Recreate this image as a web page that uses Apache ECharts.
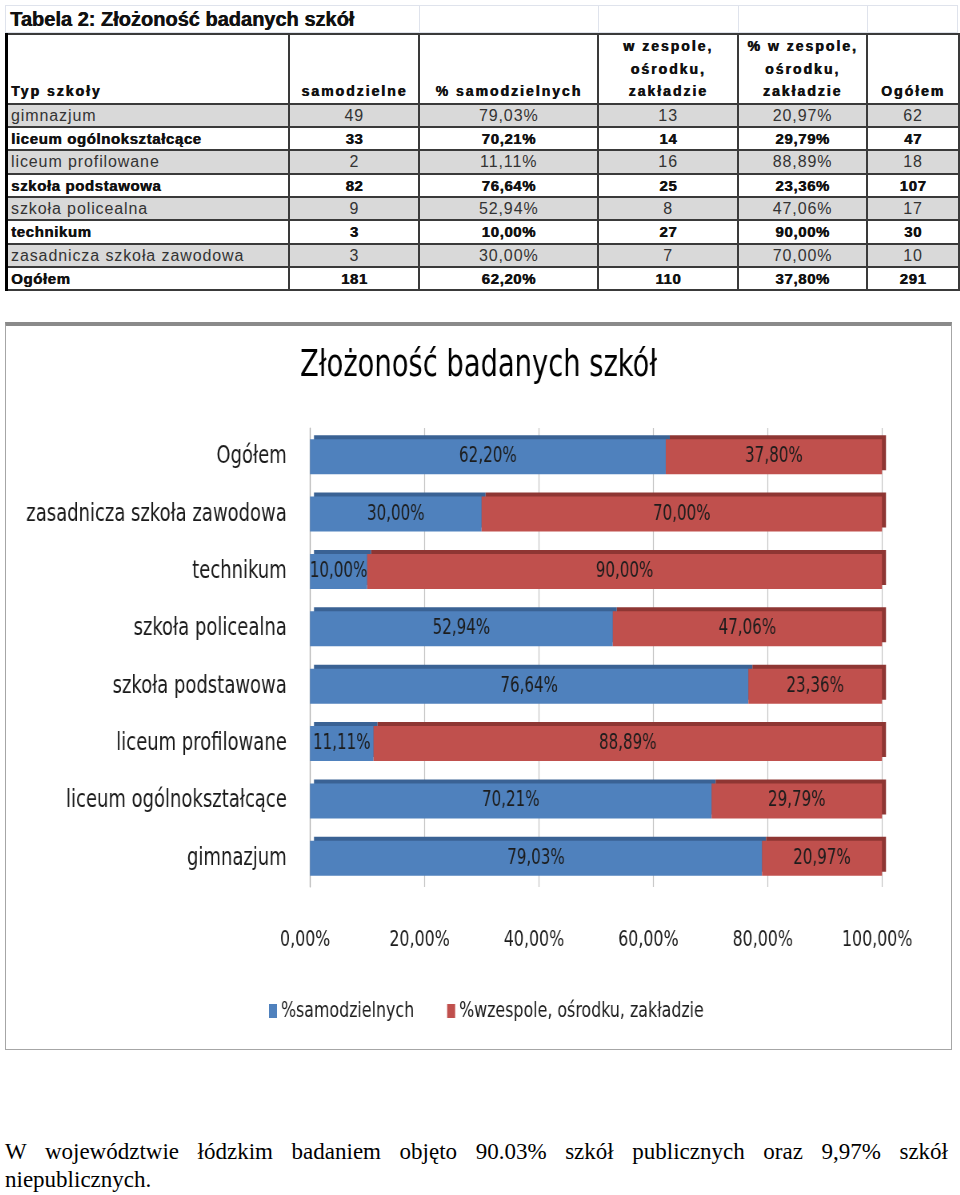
<!DOCTYPE html>
<html>
<head>
<meta charset="utf-8">
<script src="https://cdn.jsdelivr.net/npm/echarts@6/dist/echarts.min.js"></script>
<style>
html,body{margin:0;padding:0;background:#fff;width:960px;height:1195px;overflow:hidden;position:relative;}
#ttl{position:absolute;left:5px;top:5px;width:953px;height:28px;border:1px solid #dfe3ec;box-sizing:border-box;}
#ttl span{position:absolute;left:4px;top:2px;font:bold 20px "Liberation Sans",Arial,sans-serif;color:#111;letter-spacing:0px;text-shadow:0.5px 0 0 #111;}
.gl{position:absolute;top:0;width:1px;height:28px;background:#dfe3ec;}
#tbl{position:absolute;left:5px;top:33px;border-collapse:collapse;table-layout:fixed;font-family:"Liberation Sans",Arial,sans-serif;}
#tbl td{border:2px solid #3a3a3a;padding:0 3px;overflow:hidden;white-space:nowrap;}
#tbl tr.hd td{height:61px;vertical-align:bottom;text-align:center;font-weight:bold;font-size:14px;letter-spacing:2px;line-height:22.5px;color:#111;padding-bottom:0;text-shadow:0.6px 0 0 #111;}
#tbl tr.r td{height:21.35px;line-height:21px;text-align:center;}
#tbl tr.g td{background:#d9d9d9;color:#333;font-size:16px;letter-spacing:0.9px;}
#tbl tr.b td{background:#fff;color:#111;font-weight:bold;font-size:15px;letter-spacing:0.6px;text-shadow:0.5px 0 0 #111;}
#tbl td.c0{text-align:left !important;border-left:3px solid #000;}
#box{position:absolute;left:5px;top:322px;width:947px;height:728px;box-sizing:border-box;border:1.5px solid #a6a6a6;border-top:4px solid #8a8a8a;}
#chart{position:absolute;left:5px;top:322px;width:1184px;height:728px;transform:scaleX(0.8);transform-origin:0 0;}
.tx{position:absolute;left:5px;width:943px;font:23px "Liberation Serif","Times New Roman",serif;color:#000;line-height:29px;white-space:nowrap;}
#t1{top:1137px;text-align:justify;text-align-last:justify;white-space:normal;}
#t2{top:1165px;}
</style>
</head>
<body>
<div id="ttl"><span>Tabela 2: Złożoność badanych szkół</span>
<div class="gl" style="left:413px"></div><div class="gl" style="left:592px"></div><div class="gl" style="left:732px"></div><div class="gl" style="left:861px"></div></div>
<table id="tbl"></table>
<div id="box"></div>
<div id="chart"></div>
<div class="tx" id="t1">W województwie łódzkim badaniem objęto 90.03% szkół publicznych oraz 9,97% szkół</div>
<div class="tx" id="t2">niepublicznych.</div>
<script>
// ---- data ----
const tableHeaders = ["Typ szkoły", "samodzielne", "% samodzielnych", "w zespole,<br>ośrodku,<br>zakładzie", "% w zespole,<br>ośrodku,<br>zakładzie", "Ogółem"];
const categories = ["gimnazjum", "liceum ogólnokształcące", "liceum profilowane", "szkoła podstawowa", "szkoła policealna", "technikum", "zasadnicza szkoła zawodowa", "Ogółem"];
const samodzielne = [49, 33, 2, 82, 9, 3, 3, 181];
const samodzielnePct = [79.03, 70.21, 11.11, 76.64, 52.94, 10.00, 30.00, 62.20];
const wZespole = [13, 14, 16, 25, 8, 27, 7, 110];
const wZespolePct = [20.97, 29.79, 88.89, 23.36, 47.06, 90.00, 70.00, 37.80];
const ogolem = [62, 47, 18, 107, 17, 30, 10, 291];
const rowBold = [false, true, false, true, false, true, false, true];
const xTicks = [0, 20, 40, 60, 80, 100];
const seriesNames = ["%samodzielnych", "%wzespole, ośrodku, zakładzie"];
const chartTitle = "Złożoność badanych szkół";

const pct = v => v.toFixed(2).replace('.', ',') + '%';

// ---- table ----
const colW = [283, 130, 179, 140, 129, 92];
let html = '<colgroup>' + colW.map(w => '<col style="width:' + w + 'px">').join('') + '</colgroup>';
html += '<tr class="hd">' + tableHeaders.map((h, i) => '<td class="' + (i === 0 ? 'c0' : '') + '"' + (i === 0 ? ' style="text-align:left"' : '') + '>' + h + '</td>').join('') + '</tr>';
categories.forEach((c, i) => {
  html += '<tr class="r ' + (rowBold[i] ? 'b' : 'g') + '"><td class="c0">' + c + '</td><td>' + samodzielne[i] + '</td><td>' + pct(samodzielnePct[i]) +
    '</td><td>' + wZespole[i] + '</td><td>' + pct(wZespolePct[i]) + '</td><td>' + ogolem[i] + '</td></tr>';
});
document.getElementById('tbl').innerHTML = html;

// ---- chart (container is condensed horizontally by 0.8, so x-metrics are divided by S) ----
const S = 0.8;
const FONT = "'DejaVu Sans Condensed','DejaVu Sans',sans-serif";
const chart = echarts.init(document.getElementById('chart'), null, {renderer: 'canvas'});
const lbl = {show: true, position: 'inside', fontFamily: FONT, fontSize: 21, color: '#1c1c1c', formatter: p => pct(p.value)};
chart.setOption({
  animation: false,
  title: {text: chartTitle, left: 'center', top: 20, textStyle: {fontFamily: FONT, fontSize: 38, fontWeight: 'normal', color: '#000'}},
  legend: {left: 260 / S, top: 673, itemWidth: 8 / S, itemHeight: 14, itemGap: 33 / S, icon: 'rect',
    textStyle: {fontFamily: FONT, fontSize: 22, color: '#1c1c1c'}},
  grid: {left: 305 / S, width: 572 / S, top: 106, height: 459, containLabel: false, outerBoundsMode: 'none'},
  xAxis: {type: 'value', min: xTicks[0], max: xTicks[xTicks.length - 1], interval: xTicks[1] - xTicks[0],
    axisLabel: {formatter: v => pct(v), fontFamily: FONT, fontSize: 22, color: '#1c1c1c', margin: 42, padding: [0, 12, 0, 0]},
    splitLine: {show: true, lineStyle: {color: '#c4c4c4', width: 1.2}},
    axisLine: {show: false}, axisTick: {show: false}},
  yAxis: {type: 'category', data: categories,
    axisLabel: {fontFamily: FONT, fontSize: 25, color: '#1a1a1a', margin: 29},
    axisLine: {show: true, lineStyle: {color: '#b0b0b0', width: 1.2}}, axisTick: {show: false}},
  series: [
    {name: seriesNames[0], type: 'bar', stack: 's', barWidth: 35, data: samodzielnePct, label: lbl,
      itemStyle: {color: '#4F81BD', shadowColor: '#3a6294', shadowOffsetX: 4 / S, shadowOffsetY: -4, shadowBlur: 0}},
    {name: seriesNames[1], type: 'bar', stack: 's', barWidth: 35, data: wZespolePct, label: lbl,
      itemStyle: {color: '#C0504D', shadowColor: '#8e3633', shadowOffsetX: 4 / S, shadowOffsetY: -4, shadowBlur: 0}}
  ]
});
</script>
</body>
</html>
